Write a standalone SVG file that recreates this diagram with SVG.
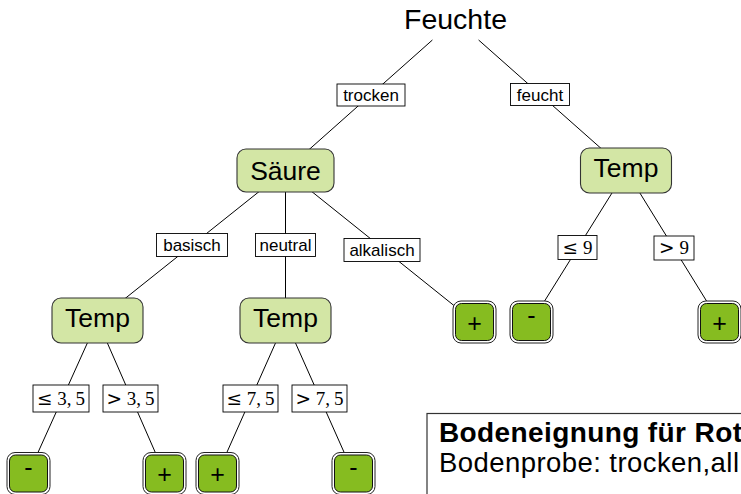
<svg xmlns="http://www.w3.org/2000/svg" width="741" height="494" viewBox="0 0 741 494">
<style>
.bg{fill:#ffffff}
.edge{stroke:#000;stroke-width:1;fill:none}
.inner{fill:#d3e6a5;stroke:#333;stroke-width:1.1}
.leafo{fill:#fff;stroke:#222;stroke-width:1}
.leafi{fill:#86bc20;stroke:#111;stroke-width:1}
.lbl{fill:#fff;stroke:#000;stroke-width:0.9}
.sans{font-family:"Liberation Sans",Arial,Helvetica,sans-serif;fill:#000}
.serif{font-family:"Liberation Serif","DejaVu Serif","Times New Roman",serif;fill:#000}
.sym{font-family:"DejaVu Serif","Liberation Serif",serif;font-size:18.5px}
.big{font-size:26.5px;text-anchor:middle}
.root{font-size:28.5px;text-anchor:middle}
.lt{font-size:17px;text-anchor:middle}
.mt{font-size:19px;text-anchor:middle}
.sign{font-size:25px;text-anchor:middle}
.info{fill:#fff;stroke:#333;stroke-width:1.2}
</style>
<rect class="bg" x="0" y="0" width="741" height="494"/>

<g id="connectors">
  <line class="edge" x1="432.4" y1="40" x2="285.5" y2="170.5"/>
  <line class="edge" x1="478.6" y1="40" x2="626" y2="170.5"/>
  <line class="edge" x1="285.5" y1="170.5" x2="97.5" y2="320.5"/>
  <line class="edge" x1="285.5" y1="170.5" x2="285.5" y2="320.5"/>
  <line class="edge" x1="285.5" y1="170.5" x2="474.5" y2="322"/>
  <line class="edge" x1="626" y1="170.5" x2="531.5" y2="322"/>
  <line class="edge" x1="626" y1="170.5" x2="719.5" y2="322"/>
  <line class="edge" x1="97.5" y1="320.5" x2="28.5" y2="473.5"/>
  <line class="edge" x1="97.5" y1="320.5" x2="164.5" y2="473.5"/>
  <line class="edge" x1="285.5" y1="320.5" x2="217.5" y2="473.5"/>
  <line class="edge" x1="285.5" y1="320.5" x2="353.5" y2="473.5"/>
</g>

<g id="edge-labels">
  <g id="l-trocken"><rect class="lbl" x="337" y="84" width="68" height="22"/><text class="sans lt" x="371" y="101">trocken</text></g>
  <g id="l-feucht"><rect class="lbl" x="510.5" y="83.5" width="59" height="22"/><text class="sans lt" x="540" y="100.5">feucht</text></g>
  <g id="l-basisch"><rect class="lbl" x="156.5" y="233.5" width="71" height="23"/><text class="sans lt" x="192" y="251">basisch</text></g>
  <g id="l-neutral"><rect class="lbl" x="255.5" y="233.5" width="60" height="23"/><text class="sans lt" x="285.5" y="251">neutral</text></g>
  <g id="l-alkalisch"><rect class="lbl" x="344" y="238.5" width="76" height="23"/><text class="sans lt" x="382" y="256">alkalisch</text></g>
  <g id="l-le9"><rect class="lbl" x="558" y="235.5" width="39" height="24"/><text class="serif mt" x="577.5" y="253.5"><tspan class="sym">≤</tspan> 9</text></g>
  <g id="l-gt9"><rect class="lbl" x="654" y="236" width="40" height="24"/><text class="serif mt" x="674" y="254"><tspan class="sym">&gt;</tspan> 9</text></g>
  <g id="l-le35"><rect class="lbl" x="33" y="385" width="56" height="27"/><text class="serif mt" x="61" y="404.5"><tspan class="sym">≤</tspan> 3,&#8201;5</text></g>
  <g id="l-gt35"><rect class="lbl" x="103" y="385" width="55" height="27"/><text class="serif mt" x="130.5" y="404.5"><tspan class="sym">&gt;</tspan> 3,&#8201;5</text></g>
  <g id="l-le75"><rect class="lbl" x="223" y="385" width="55" height="27"/><text class="serif mt" x="250.5" y="404.5"><tspan class="sym">≤</tspan> 7,&#8201;5</text></g>
  <g id="l-gt75"><rect class="lbl" x="292" y="385" width="55" height="27"/><text class="serif mt" x="319.5" y="404.5"><tspan class="sym">&gt;</tspan> 7,&#8201;5</text></g>
</g>

<g id="n-feuchte"><text class="sans root" x="455.5" y="29">Feuchte</text></g>

<g id="n-saeure"><rect class="inner" x="237" y="149" width="97" height="43" rx="9"/><text class="sans big" x="285.5" y="179.5">Säure</text></g>
<g id="n-temp-r"><rect class="inner" x="580.5" y="148" width="91" height="45" rx="9"/><text class="sans big" x="626" y="177.3">Temp</text></g>
<g id="n-temp-l"><rect class="inner" x="52" y="298" width="91" height="45" rx="9"/><text class="sans big" x="97.5" y="327.3">Temp</text></g>
<g id="n-temp-m"><rect class="inner" x="240" y="298" width="91" height="45" rx="9"/><text class="sans big" x="285.5" y="327.3">Temp</text></g>

<g id="leaf-alk-plus"><rect class="leafo" x="453" y="301" width="43" height="42" rx="8"/><rect class="leafi" x="455.5" y="303.5" width="38" height="37" rx="6"/><text class="sans sign" x="474.5" y="331.5">+</text></g>
<g id="leaf-le9-minus"><rect class="leafo" x="510" y="301" width="43" height="42" rx="8"/><rect class="leafi" x="512.5" y="303.5" width="38" height="37" rx="6"/><text class="sans sign" x="531.5" y="323.8">-</text></g>
<g id="leaf-gt9-plus"><rect class="leafo" x="698" y="301" width="43" height="42" rx="8"/><rect class="leafi" x="700.5" y="303.5" width="38" height="37" rx="6"/><text class="sans sign" x="719.5" y="331.5">+</text></g>

<g id="leaf-le35-minus"><rect class="leafo" x="7" y="452.5" width="43" height="42" rx="8"/><rect class="leafi" x="9.5" y="455" width="38" height="37" rx="6"/><text class="sans sign" x="28.5" y="475.5">-</text></g>
<g id="leaf-gt35-plus"><rect class="leafo" x="143" y="452.5" width="43" height="42" rx="8"/><rect class="leafi" x="145.5" y="455" width="38" height="37" rx="6"/><text class="sans sign" x="164.5" y="483">+</text></g>
<g id="leaf-le75-plus"><rect class="leafo" x="196" y="452.5" width="43" height="42" rx="8"/><rect class="leafi" x="198.5" y="455" width="38" height="37" rx="6"/><text class="sans sign" x="217.5" y="483">+</text></g>
<g id="leaf-gt75-minus"><rect class="leafo" x="332" y="452.5" width="43" height="42" rx="8"/><rect class="leafi" x="334.5" y="455" width="38" height="37" rx="6"/><text class="sans sign" x="353.5" y="475.5">-</text></g>

<g id="info-box">
  <rect class="info" x="427" y="413.5" width="330" height="100"/>
  <text class="sans" x="439" y="442" font-size="28" font-weight="bold" textLength="303" lengthAdjust="spacing">Bodeneignung für Rot</text>
  <text class="sans" x="439" y="472" font-size="27.5" textLength="300" lengthAdjust="spacing">Bodenprobe: trocken,all</text>
</g>
</svg>
